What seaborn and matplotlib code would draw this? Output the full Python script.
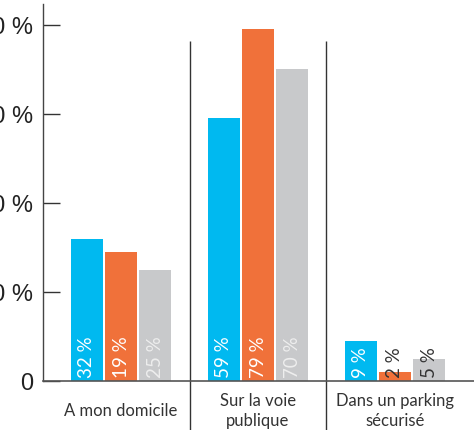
import matplotlib
matplotlib.use("Agg")
import matplotlib.pyplot as plt
import pandas as pd
import seaborn as sns

# data
categories = ["A mon domicile", "Sur la voie\npublique", "Dans un parking\nsécurisé"]
series = ["Série 1", "Série 2", "Série 3"]
blue_values = [32, 59, 9]
orange_values = [29, 79, 2]
grey_values = [25, 70, 5]
# the printed labels (the orange one at home says 19 although the bar reaches ~29)
blue_labels = ["32 %", "59 %", "9 %"]
orange_labels = ["19 %", "79 %", "2 %"]
grey_labels = ["25 %", "70 %", "5 %"]
yticks = [0, 20, 40, 60, 80]
ytick_labels = ["0", "20 %", "40 %", "60 %", "80 %"]

colors = ["#00b9f0", "#f0713a", "#c8c9cb"]

rows = []
for s, vals in zip(series, [blue_values, orange_values, grey_values]):
    for c, v in zip(categories, vals):
        rows.append({"lieu": c, "serie": s, "pct": v})
df = pd.DataFrame(rows)

sns.set_style("white")
plt.rcParams["font.family"] = ["Lato", "DejaVu Sans"]

fig = plt.figure(figsize=(4.74, 4.31), dpi=100)
ax = fig.add_axes([43 / 474, 49 / 431, 431 / 474, 377 / 431])

sns.barplot(data=df, x="lieu", y="pct", hue="serie", palette=colors,
            width=0.75, gap=0.06, saturation=1, linewidth=0,
            errorbar=None, legend=False, ax=ax)

ax.set_xlim(-0.57, 2.577)
ax.set_ylim(0, 84.7)

# labels written upwards from the bottom of each bar
label_sets = [blue_labels, orange_labels, grey_labels]
for k, (cont, labs) in enumerate(zip(ax.containers, label_sets)):
    for i, (bar, lab) in enumerate(zip(cont.patches, labs)):
        h = bar.get_height()
        if h < 8:
            col = "#333333"
        elif k == 2:
            col = "#eeeeee"
        else:
            col = "white"
        ax.text(bar.get_x() + bar.get_width() / 2, 0.9, lab, rotation=90,
                ha="center", va="bottom", fontsize=13.5, color=col)

# separators between the groups
for xs in [0.5, 1.5]:
    ax.vlines(xs, -11.2, 76.4, color="#333333", linewidth=1, clip_on=False)

ax.set_yticks(yticks)
ax.set_yticklabels(ytick_labels, fontsize=17, color="#222222",
                   family=["Liberation Sans", "DejaVu Sans"])
ax.tick_params(axis="y", direction="in", length=12, width=1, color="#333333", pad=7, left=True)
ax.tick_params(axis="x", length=0, pad=21)
ax.set_xticks(range(len(categories)))
ax.set_xticklabels(categories, fontsize=12, color="#333333", linespacing=1.3)
for t in ax.get_xticklabels():
    t.set_va("center")

ax.set_xlabel("")
ax.set_ylabel("")
sns.despine(ax=ax, top=True, right=True)
ax.spines["left"].set_color("#444444")
ax.spines["left"].set_linewidth(1)
ax.spines["bottom"].set_color("#555555")
ax.spines["bottom"].set_linewidth(1.2)

fig.savefig("out.png", dpi=100)
